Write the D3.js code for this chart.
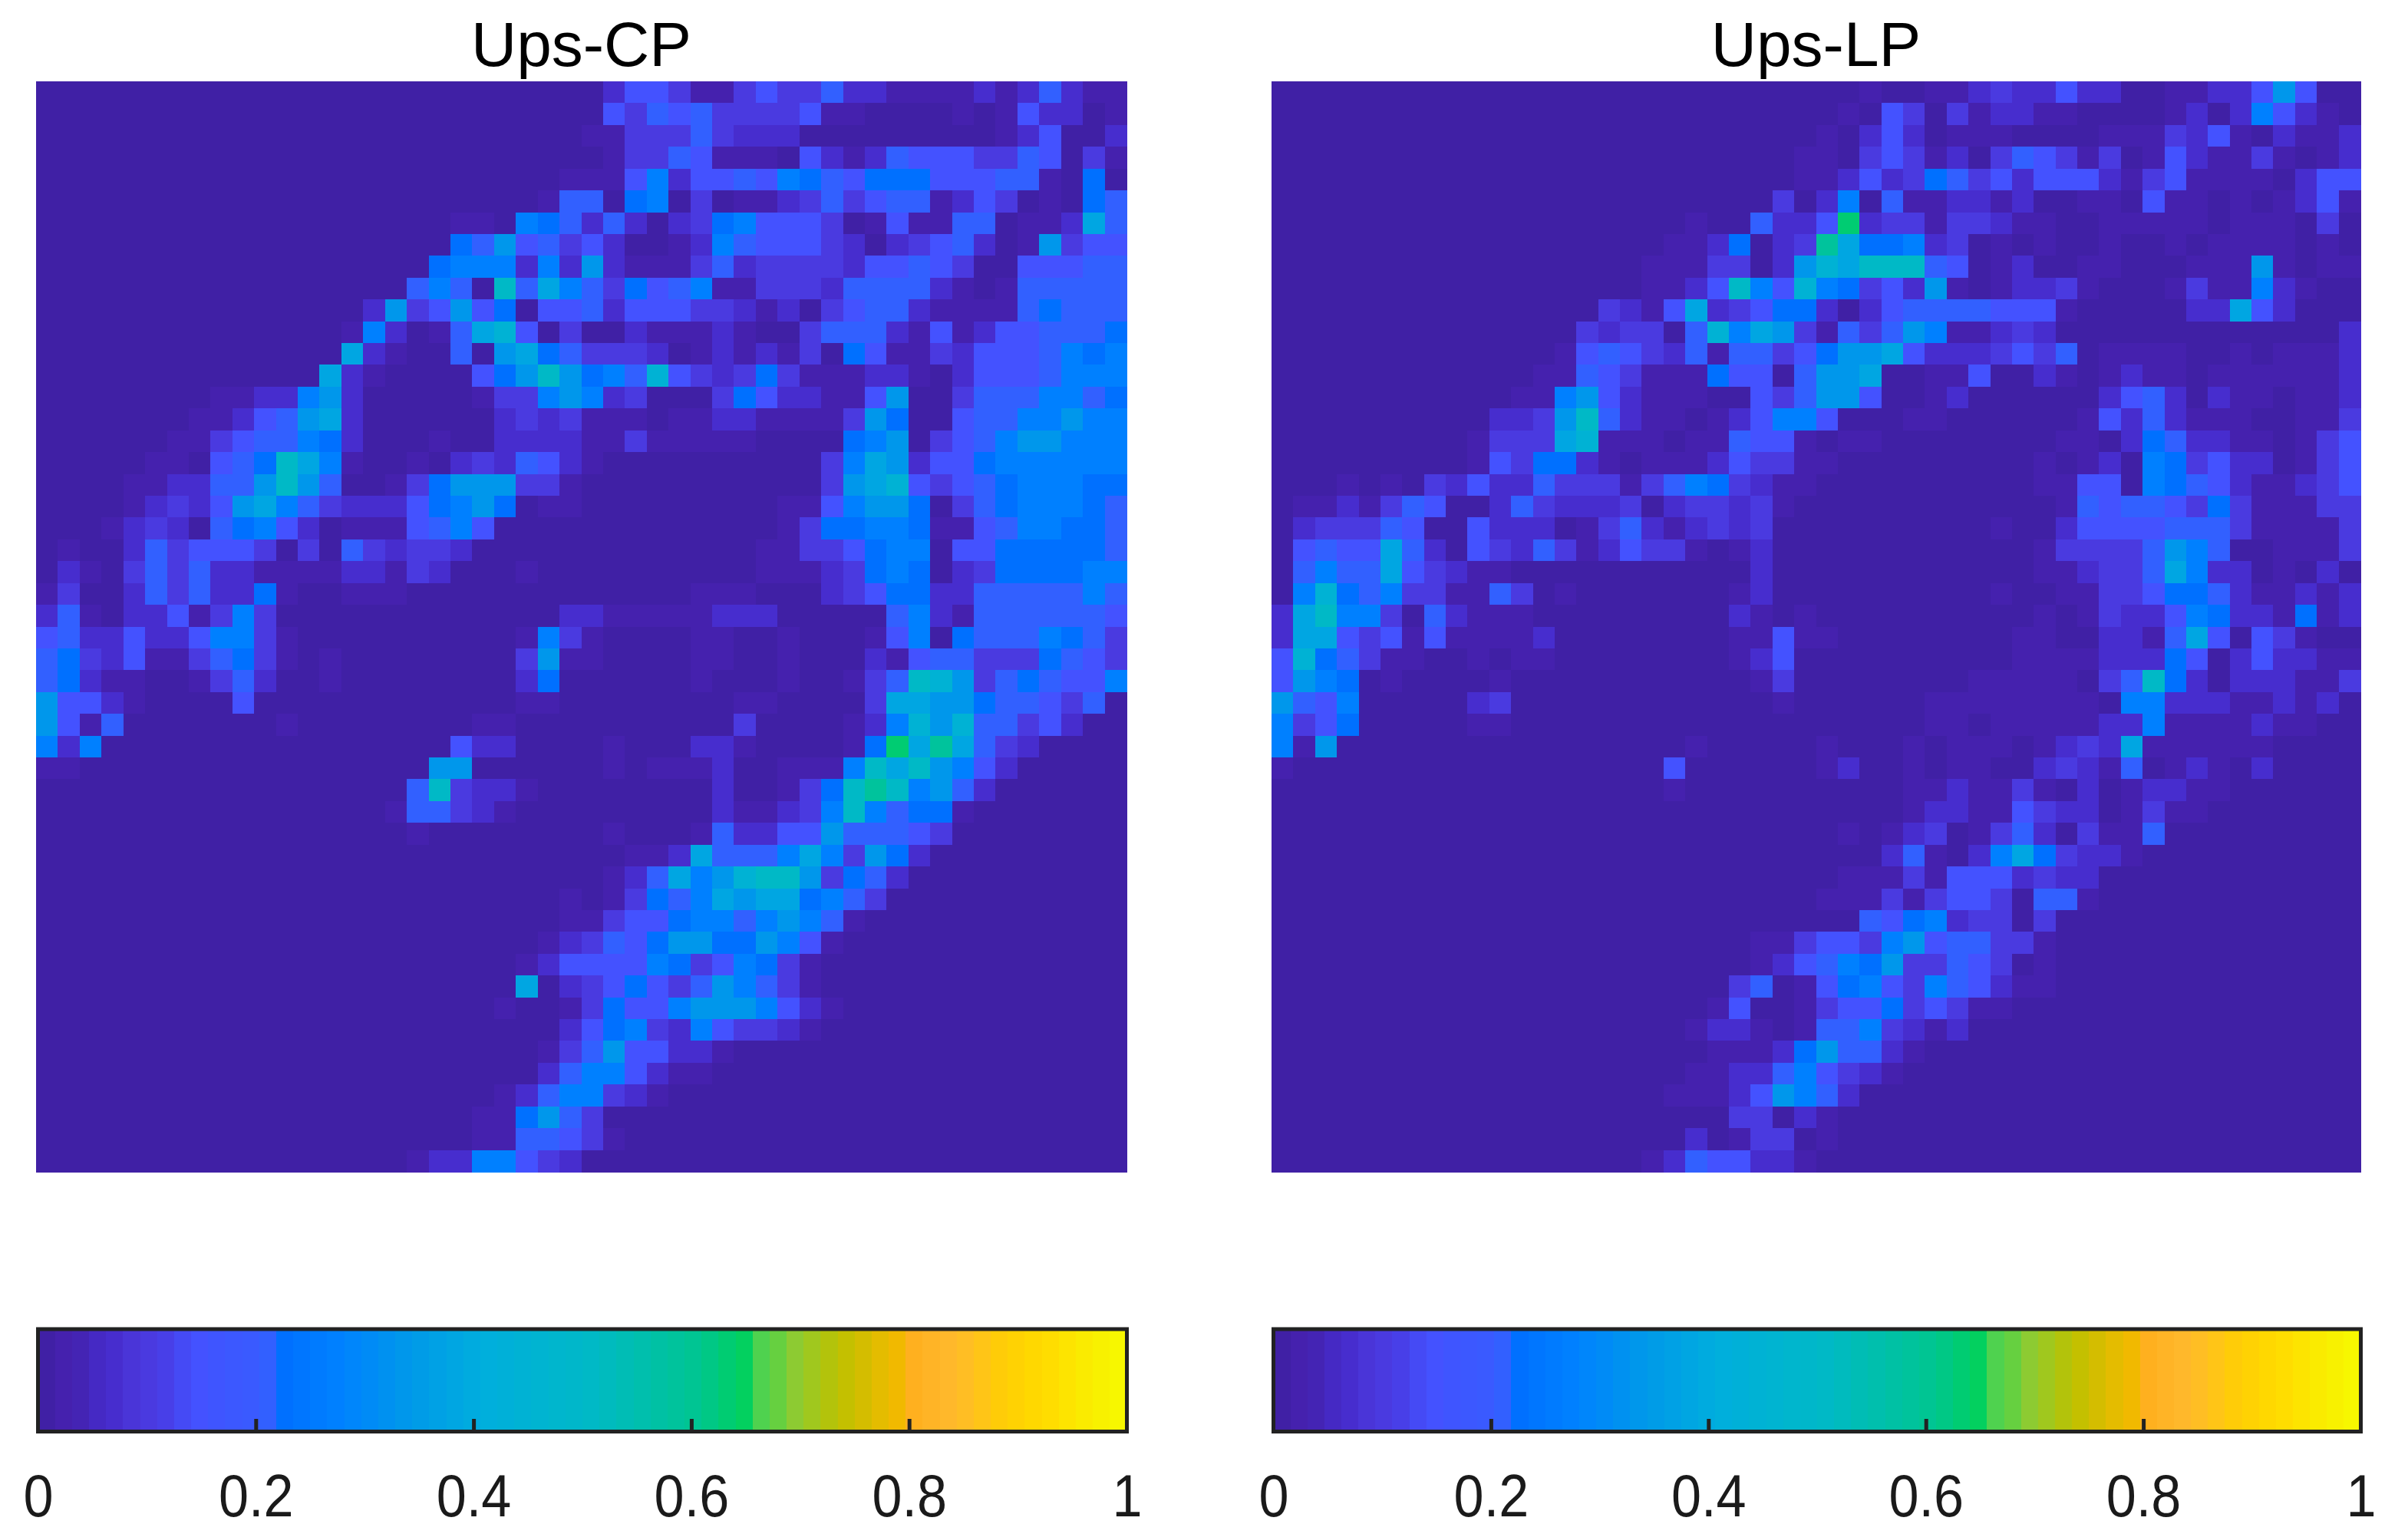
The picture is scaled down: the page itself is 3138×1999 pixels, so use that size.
<!doctype html>
<html>
<head>
<meta charset="utf-8">
<title>Ups-CP / Ups-LP</title>
<script src="https://d3js.org/d3.v7.min.js"></script>
<style>
  body { margin: 0; background: #fff; }
  text { font-family: "Liberation Sans", Arial, sans-serif; fill: #1a1a1a; }
  .title { font-size: 82px; text-anchor: middle; fill: #000; }
  .bar .tick text { font-size: 78px; }
  .bar .tick line { stroke: #222; stroke-width: 5px; }
  .bar .domain { display: none; }
</style>
</head>
<body>
<svg id="fig" width="3138" height="1999"></svg>
<script>
var titles = ["Ups-CP", "Ups-LP"];
var barTicks = [0, 0.2, 0.4, 0.6, 0.8, 1];

// each character of a row is one cell, read off the picture as a level (see levelValues)
// left half columns are padded on the left with 0, right half on the right
var levelValues = [0, .02, .07, .1, .145, .21, .22, .28, .33, .38, .44, .5, .58, .64];

var cpLeft = ["", "", "", "", "1", "15", "110765", "658453", "6777272", "5750b597",
  "2834846044", "1720159a403", "92100508965", "9210000468b8", "11227820000013378",
  "112458920000002323", "1134557620001002222", "110456b9710010232542", "1122558b8500136888331",
  "123248975322246786011", "1232056742011145740000", "0100253444303053233200000",
  "0210353522111122132000100", "1300253522610011100000000", "2510224137300000000000002",
  "4522422477310000000000173", "5632411356310100000000381", "5621100135200100000000260",
  "8442100004000000000000110", "8415000000010000000011000", "7270000000000000000422000",
  "1100000000000000008800000", "5b322100", "155321000", "10000000", "", "", "1", "1", "12",
  "124", "902", "1001", "2", "13", "25", "1257", "11685", "11554", "12277432"];

var cpRight = ["0244311343352211112125211", "0435453333411000010142201", "1133353222000000000124002",
  "0133541110421254443354031", "1147244547654666444551060", "5067030112353455124301065",
  "2520236744430141155011295", "4200127544432023452018344", "8211135233332445430044455",
  "5364571133325555210155555", "5244433212034552111156555", "0021112100355521412445556",
  "3332012121306411324445767", "675a432363111221024445777", "7230003642211480035557756",
  "1110112211113860045577877", "1131111100006780345788777", "1000000000037982446777777",
  "00000000000389a4345677766", "0000000001147886035677765", "0000000001366776114577665",
  "0000000011334677044666665", "0000000011123676023666677", "0000011100023466225555575",
  "2111112220000057215555554", "1000011001000147065557653", "1000011001000214553336543",
  "000001000100135ba83565447", "0000000110000399886554350", "000000030000127a8a5534200",
  "01000221000016d9c95320000", "0101112001117b9b874200000", "000000200136bcb7852",
  "000000211237b75661", "01000152244855543", "0011295557973862", "0125978abb83652",
  "01365798996753", "1344677578751", "354688668741", "44476347631", "34643587531",
  "364478887421", "46732743321", "5844221", "774211", "7321", "3", "31", ""];

var lpLeft = ["", "", "", "1", "1", "30", "100522", "1126023", "11133028", "1124b74a",
  "3214923466", "323305a7983", "145432515534", "1154311164405", "11784211100435",
  "2238b5211012477", "13339a1110115441", "1436621011124331", "1010324225333135763211",
  "112135400253222302332310", "233354004222013521232300", "454495204325312433101200",
  "575594321100000000000200", "7a6573311530100000001200", "29b7730521110000000002101",
  "2994341411112000000001141", "4a65311001011000000001240", "4876010000100000000000130",
  "8547000002300000000000010", "7346000001100000000000000", "7180000000000000000100000",
  "1000000000000000004000000", "1000000", "", "", "", "", "", "", "113",
  "124", "3501", "14001", "122101", "11126", "112257", "1112487", "3302", "201330", "12544221"];

var lpRight = ["0010011232242200112248400", "0104303122110000120274210", "1024201110000111324102112",
  "1034312035431301421131012", "1242365342444213411110244", "2705112212001104110101241",
  "4d23313321100111110111030", "c966723010100100101111010", "a9bbb54012001100011181011",
  "7634281012231000131172100", "2024555544410000022942000", "1535871123200000000000002",
  "6889422234350111100101112", "8890011400210121101111112", "8840012000000245202110112",
  "4000110000001425211100113", "0110000000011026522110134", "1000000000101207634220134",
  "0000000000114407654211234", "0000000000015455436311133", "0000000010024444555311113",
  "0000000000133335875001113", "0000000000112335972201020", "0000000010011334665211212",
  "0000000000101322476221612", "1000000001100221594043100", "0000000001111222640242211",
  "000000011111035b620222113", "0000011111111077222112120", "0000011011111227111121100",
  "100010111012329111111", "120010110023215012102", "0000112113102012211", "000012211432201311",
  "0101230135203115", "000251027963221", "0111314442322", "1113134430551", "00546723303",
  "44378455331", "57683354301", "46743754211", "344634311", "5573212", "85521", "4321", "52",
  "1", "1", ""];

// colormap as it shows in the colour bars, with its three hard steps
var mapStops = [0, .0156, .0312, .0469, .0625, .0781, .0938, .1094, .125, .1406, .1562, .1875, .2031, .2187,
  .27, .3, .33, .4, .5, .6, .64, .656, .672, .687, .703, .72, .734, .75, .766, .78, .79, .797, .83, .85, .875, .9, .93, .96, 1];
var mapColors = ["#4020a5", "#4521ae", "#4424b4", "#4529c4", "#472dce", "#4a35d8", "#4a3ae0", "#483fe8", "#454af5",
  "#4452ff", "#3f55ff", "#3a5aff", "#3260ff", "#0070ff",
  "#0082ff", "#008cf5", "#0098ea", "#00aedd", "#00b9c6", "#00c690", "#00d060", "#4fd24f", "#66d040", "#8ccb33",
  "#a0c81e", "#b5c30a", "#c4c000", "#d4bd00", "#e4bc00", "#f0b900", "#f5b800", "#ffb020", "#ffb82c", "#ffc020",
  "#ffcc08", "#ffd600", "#ffe000", "#f8ee00", "#f7fc00"];

var N = 50, LEVELS = 64;
var color = d3.scaleLinear().domain(mapStops).range(mapColors);

function band(v) {
  return color(Math.min(Math.floor(v * LEVELS), LEVELS - 1) / LEVELS);
}

function cells(left, right) {
  var out = [];
  left.forEach(function(row, r) {
    var s = row.padStart(25, "0") + right[r].padEnd(25, "0");
    s.split("").forEach(function(ch, c) {
      out.push({ r: r, c: c, v: levelValues[parseInt(ch, 16)] });
    });
  });
  return out;
}

var svg = d3.select("#fig");
var panels = [
  { title: titles[0], x0: 47, x1: 1468, data: cells(cpLeft, cpRight) },
  { title: titles[1], x0: 1657, x1: 3076, data: cells(lpLeft, lpRight) }
];

panels.forEach(function(p) {
  var x = d3.scaleBand().domain(d3.range(N)).range([p.x0, p.x1]);
  var y = d3.scaleBand().domain(d3.range(N)).range([106, 1527]);

  svg.append("text").attr("class", "title")
    .attr("x", (p.x0 + p.x1) / 2).attr("y", 86).text(p.title);

  svg.append("g").attr("shape-rendering", "crispEdges")
    .selectAll("rect").data(p.data).enter().append("rect")
    .attr("x", function(d) { return x(d.c); })
    .attr("y", function(d) { return y(d.r); })
    .attr("width", x.bandwidth() + 0.5)
    .attr("height", y.bandwidth() + 0.5)
    .attr("fill", function(d) { return band(d.v); });

  // colour bar
  var bx = d3.scaleLinear().domain([0, 1]).range([p.x0 + 2.5, p.x1 + 0.5]);
  var g = svg.append("g").attr("class", "bar");
  g.append("g").attr("shape-rendering", "crispEdges")
    .selectAll("rect").data(d3.range(LEVELS)).enter().append("rect")
    .attr("x", function(i) { return bx(i / LEVELS); })
    .attr("y", 1732)
    .attr("width", (p.x1 - p.x0) / LEVELS + 0.5)
    .attr("height", 133)
    .attr("fill", function(i) { return band(i / LEVELS); });

  var axis = d3.axisBottom(bx).tickValues(barTicks.slice(1, -1)).tickFormat(d3.format("~g")).tickSize(-16);
  g.append("g").attr("transform", "translate(0,1865)").call(axis)
    .selectAll(".tick text").remove();

  // labels run from the bar's outer corners, so 0 and 1 sit on the frame
  var labels = d3.axisBottom(bx).tickValues(barTicks).tickFormat(d3.format("~g")).tickSize(0);
  g.append("g").attr("transform", "translate(0,1864)").call(labels)
    .selectAll(".tick text")
    .attr("y", 112).attr("dy", 0)
    .attr("transform", "scale(.9,1)");

  g.append("rect").attr("x", bx(0)).attr("y", 1732)
    .attr("width", bx(1) - bx(0)).attr("height", 133.5)
    .attr("fill", "none").attr("stroke", "#222").attr("stroke-width", 5);
});
</script>
</body>
</html>
